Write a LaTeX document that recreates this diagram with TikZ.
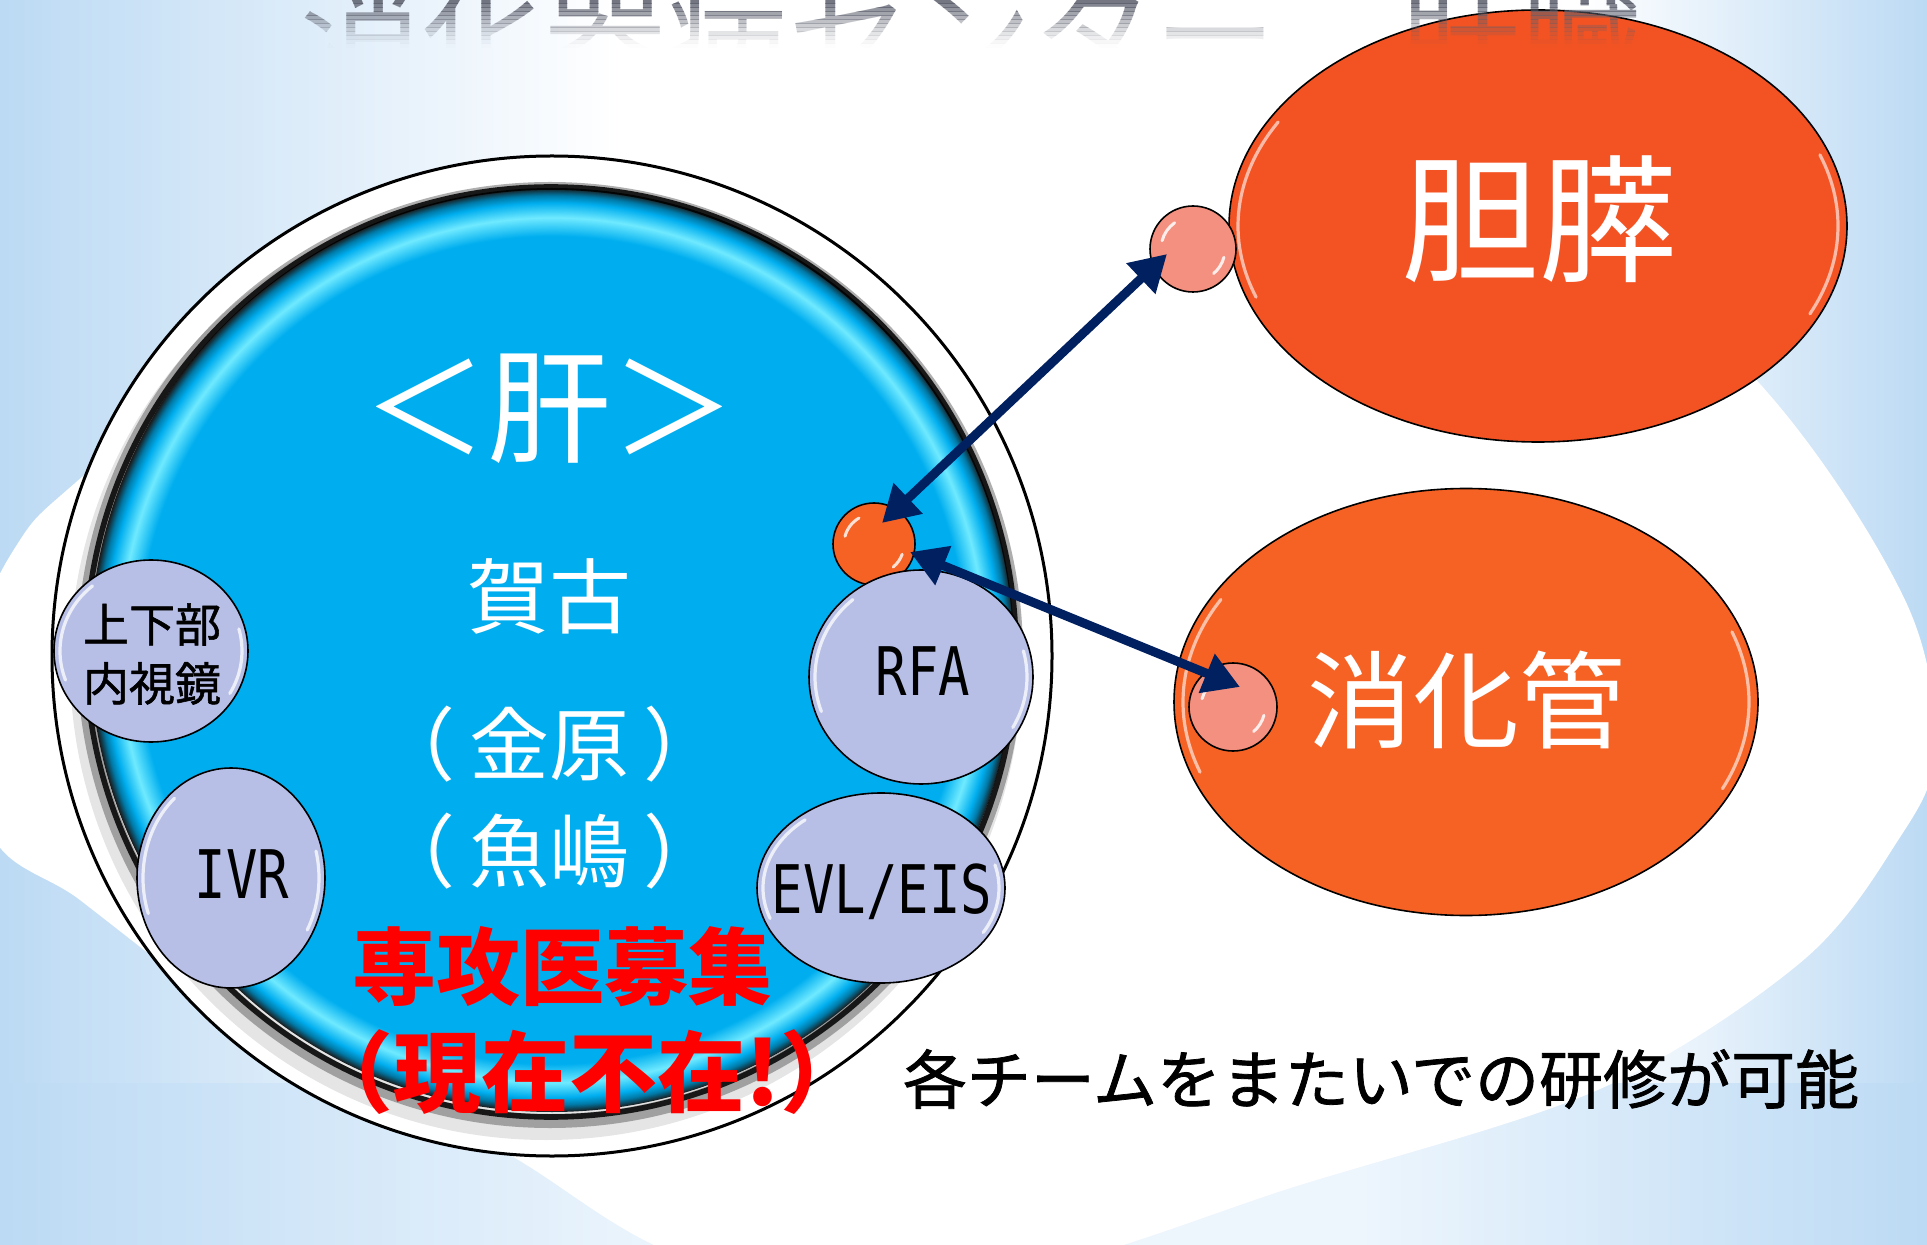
\documentclass[tikz,border=0pt]{standalone}
\usepackage{fontspec}
\newfontfamily\jp{Noto Sans CJK JP}
\newfontfamily\jpm[FakeBold=1.2]{Noto Sans CJK JP}
\newfontfamily\mono[FakeStretch=0.78]{DejaVu Sans Mono}
\usetikzlibrary{arrows.meta,calc,shapes.geometric}
\definecolor{skyb}{HTML}{00AEEF}
\definecolor{skyl}{HTML}{70EAFF}
\definecolor{lav}{HTML}{B7BFE7}
\definecolor{orgA}{HTML}{F35323}
\definecolor{orgB}{HTML}{F66224}
\definecolor{salm}{HTML}{F4907F}
\definecolor{navy}{HTML}{002060}
\definecolor{bgb}{HTML}{BCDAF4}
\definecolor{bgm}{HTML}{EEF6FD}
\definecolor{ttl}{HTML}{5B5E6C}
\pgfdeclarehorizontalshading{bgsh}{100bp}{color(0bp)=(bgb); color(25bp)=(bgb); color(41bp)=(white); color(66bp)=(white); color(75bp)=(bgb); color(100bp)=(bgb)}
\pgfdeclarehorizontalshading{bandsh}{100bp}{color(0bp)=(bgb); color(25bp)=(bgb); color(43bp)=(bgm); color(60bp)=(bgm); color(75bp)=(bgb); color(100bp)=(bgb)}
\pgfdeclareradialshading{bluedisc}{\pgfpoint{0bp}{0bp}}{color(0bp)=(skyb); color(22.4bp)=(skyb); color(23.4bp)=(skyl); color(24.2bp)=(skyb); color(24.6bp)=(skyb!70!black); color(25bp)=(black!90); color(50bp)=(black!90)}
\newcommand\glossarc[7]{\draw[white,line cap=round,line width=#6,opacity=#7] ($(#1.center)+(#2:#4 and #5)$) arc[start angle=#2,end angle=#3,x radius=#4,y radius=#5];}
\tikzset{
  lavball/.style={ellipse, fill=lav, draw=black, line width=0.8pt, inner sep=0pt},
  orgball/.style={ellipse, draw=black, line width=0.8pt, inner sep=0pt},
  dot/.style={circle, draw=black, line width=0.8pt, inner sep=0pt},
  monotxt/.style={font=\mono\fontsize{33.5}{40}\selectfont, text=black},
  wtxt/.style={text=white},
  arr/.style={draw=navy, line width=4.5pt, {Triangle[length=18pt,width=20pt]}-{Triangle[length=18pt,width=20pt]}},
  ttlstyle/.style={font=\jp\fontsize{61}{70}\selectfont, text=ttl, anchor=base west}
}
\begin{document}
\begin{tikzpicture}[x=0.5pt,y=-0.5pt, every node/.append style={inner sep=0pt, outer sep=0pt}]
\useasboundingbox (0,0) rectangle (1927,1245);
\begin{scope}
\clip (0,0) rectangle (1927,1245);
\fill[shading=bgsh] (0,0) rectangle (1927,1245);
\fill[shading=bandsh] (0,1083) rectangle (1927,1245);
\fill[white] plot[smooth cycle, tension=0.55] coordinates {(-20,640) (20,540) (90,470) (350,250) (900,120) (1500,150) (1760,384) (1905,600) (1935,752) (1895,845) (1800,963) (1600,1089) (1300,1185) (1000,1275) (700,1262) (500,1150) (330,1082) (210,1000) (80,900) (-10,830)};
\end{scope}
% liver disk
\node[circle, minimum size=500pt, fill=white, draw=black, line width=1.5pt] (outer) at (552,656) {};
\fill[black, opacity=0.10] (546,664) circle[radius=238pt];
\draw[black!70, line width=7pt, opacity=0.45] (550,655) circle[radius=233pt];
\node[circle, minimum size=462pt, shading=bluedisc] (disk) at (552,650) {};
\draw[black, line width=2.8pt, opacity=0.85] (551,652) circle[radius=232.5pt];
\node[wtxt, font=\jp\fontsize{62}{70}\selectfont] (kan) at (549,409) {＜肝＞};
\node[wtxt, font=\jp\fontsize{41}{48}\selectfont] (kako) at (549,596) {賀古};
\node[wtxt, font=\jp\fontsize{40}{48}\selectfont] (kanehara) at (549,744) {（\hspace{7pt}金原\hspace{7pt}）};
\node[wtxt, font=\jp\fontsize{40}{48}\selectfont] (uojima) at (549,851) {（\hspace{7pt}魚嶋\hspace{7pt}）};
\node[text=red, font=\jp\bfseries\fontsize{42}{48}\selectfont] (bosyu) at (562,967) {専攻医募集};
\node[text=red, font=\jp\bfseries\fontsize{44}{50}\selectfont] (fuzai) at (587,1072) {（現在不在!）};
% lavender balls
\node[lavball, minimum width=97pt, minimum height=91pt] (naishi) at (151,651) {};
\node[lavball, minimum width=94pt, minimum height=110pt] (ivr) at (231,878) {};
\node[dot, fill=orgB, minimum size=41pt] (hub) at (874,544) {};
\glossarc{hub}{-120}{-165}{30}{30}{1.5pt}{0.8}
\glossarc{hub}{20}{50}{30}{30}{1.5pt}{0.8}
\node[lavball, minimum width=112pt, minimum height=107pt] (rfa) at (921,677) {};
\node[lavball, minimum width=124pt, minimum height=95pt] (evl) at (881,888) {};
\foreach \n/\a/\b in {naishi/91/85, ivr/88/104, rfa/106/101, evl/118/89}{
  \glossarc{\n}{-130}{-200}{\a}{\b}{1.6pt}{0.75}
  \glossarc{\n}{30}{-15}{\a}{\b}{1.6pt}{0.75}
}
\node[font=\jpm\fontsize{23}{29.5}\selectfont, align=center] (naishit) at (152,654) {上下部\\内視鏡};
\node[monotxt] (ivrt) at (242,874) {IVR};
\node[monotxt] (rfat) at (923,671) {RFA};
\node[monotxt] (evlt) at (882,892) {EVL/EIS};
% orange groups
\node[orgball, fill=orgA, minimum width=309pt, minimum height=216pt] (tanpi) at (1538,226) {};
\node[orgball, fill=orgB, minimum width=292pt, minimum height=213.5pt] (shoka) at (1466,702) {};
\glossarc{tanpi}{-150}{-200}{300}{208}{1.6pt}{0.6}
\glossarc{tanpi}{25}{-20}{300}{208}{1.6pt}{0.6}
\glossarc{shoka}{-150}{-200}{283}{205}{1.6pt}{0.6}
\glossarc{shoka}{25}{-20}{283}{205}{1.6pt}{0.6}
\node[wtxt, font=\jp\fontsize{69}{76}\selectfont] (tanpit) at (1539,219) {胆膵};
\node[wtxt, font=\jp\fontsize{53}{60}\selectfont] (shokat) at (1466,700) {消化管};
\node[dot, fill=salm, minimum size=43pt] (pb) at (1193,249) {};
\node[dot, fill=salm, minimum size=44pt] (pd) at (1233,707) {};
\foreach \n in {pb,pd}{
  \glossarc{\n}{-125}{-165}{32}{32}{1.5pt}{0.85}
  \glossarc{\n}{15}{50}{32}{32}{1.5pt}{0.85}
}
% arrows
\draw[arr] ([shift={(8,-21)}]hub.center) -- ([shift={(-26,5)}]pb.center);
\draw[arr] ([shift={(36,8)}]hub.center) -- ([shift={(7,-20)}]pd.center);
% note
\node[font=\jpm\fontsize{32}{38}\selectfont, text=black] (note) at (1381,1079) {各チームをまたいでの研修が可能};
% faded title (only its lower part shows at the top edge)
\foreach \i in {0,...,11}{
  \begin{scope}
    \clip (0,{\i*4}) rectangle (1927,{\i*4+4});
    \node[ttlstyle, opacity={0.9*(1-(\i+0.5)/12)^1.4}] (ttl\i) at (300,81) {消化器病センター　肝臓};
  \end{scope}
}
\end{tikzpicture}
\end{document}
